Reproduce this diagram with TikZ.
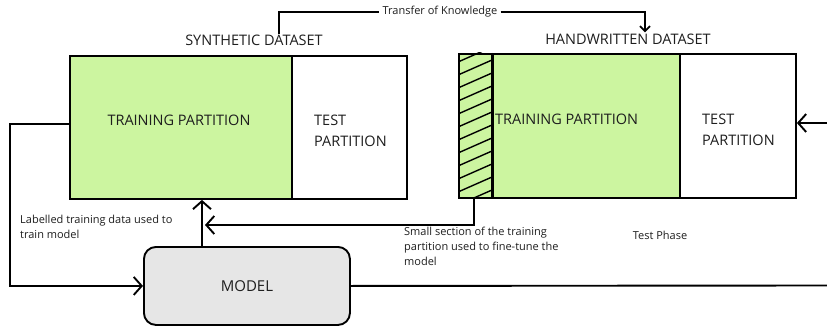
\documentclass[tikz,border=0pt]{standalone}
\usepackage{fontspec}
\setmainfont{Open Sans}
\usetikzlibrary{arrows.meta}
\definecolor{lgreen}{RGB}{204,245,160}
\definecolor{lgray}{RGB}{230,230,230}
\definecolor{txt}{RGB}{30,30,30}
\begin{document}
\begin{tikzpicture}[x=1pt,y=-1pt,
  box/.style={draw, line width=1.9pt, inner sep=0pt, anchor=north west, minimum height=143pt},
  conn/.style={line width=1.9pt},
  tip/.style={-{Straight Barb[length=8pt,width=18pt,line width=1.9pt]}},
  smalltip/.style={-{Straight Barb[length=5pt,width=10pt,line width=1.9pt]}},
  captxt/.style={font=\fontsize{14.5}{21}\selectfont, text=txt, inner sep=0pt},
  lbl/.style={font=\fontsize{11}{15}\selectfont, text=txt, align=left, anchor=north west, inner sep=0pt}]
\useasboundingbox[fill=white] (0,0) rectangle (827,326);
% synthetic dataset
\node[box, fill=lgreen, minimum width=222pt] (strain) at (69,55) {};
\node[box, minimum width=115pt] (stest) at (291,55) {};
\node[captxt] (strainlbl) at (179,120) {TRAINING PARTITION};
\node[captxt, align=left, anchor=west] (stestlbl) at (314,131) {TEST\\PARTITION};
\node[captxt] (synlbl) at (254,40) {SYNTHETIC DATASET};
% handwritten dataset
\node[box, fill=lgreen, minimum width=34pt, minimum height=144pt] (hhatch) at (458,53) {};
\begin{scope}
\clip (458,53) rectangle (492,197);
\foreach \k in {0,...,13} \draw[line width=1.4pt] (458,62+13*\k) -- (492,47+13*\k);
\end{scope}
\node[box, minimum width=34pt, minimum height=144pt] at (458,53) {};
\node[box, fill=lgreen, minimum width=187pt, minimum height=144pt] (htrain) at (492,53) {};
\node[box, minimum width=116pt, minimum height=144pt] (htest) at (679,53) {};
\draw[line width=2.8pt] (htrain.north west) -- (htrain.south west);
\node[captxt, anchor=west] (htrainlbl) at (495,119) {TRAINING PARTITION};
\node[captxt, align=left, anchor=west] (htestlbl) at (702,130) {TEST\\PARTITION};
\node[captxt] (hwlbl) at (628,39) {HANDWRITTEN DATASET};
% model
\node[draw, fill=lgray, rounded corners=12pt, line width=1.9pt, minimum width=206pt, minimum height=78pt, anchor=north west, inner sep=0pt, font=\fontsize{15}{17}\selectfont, text=txt] (model) at (143,246) {MODEL};
% transfer of knowledge
\node[font=\fontsize{11}{13}\selectfont, text=txt, inner sep=3pt] (tk) at (440,12) {Transfer of Knowledge};
\draw[conn] ([xshift=25pt]synlbl.north) |- (tk.west);
\draw[conn, smalltip] (tk.east) -| ([xshift=17pt,yshift=1pt]hwlbl.north);
% connectors
\draw[conn, tip] ([yshift=3.5pt]strain.west) -- ++(-59,0) |- (model.west);
\draw[conn, tip] ([xshift=-45pt]model.north) -- ([xshift=-45pt]model.north |- strain.south);
\coordinate (fineend) at (205,225);
\draw[conn, tip] ([xshift=-2pt]hhatch.south) |- (fineend);
\coordinate (rightout) at (827,285.5);
\draw[conn] (model.east) -- (rightout);
\coordinate (rightin) at (827,123);
\draw[conn, tip] (rightin) -- (rightin -| htest.east);
% labels
\node[lbl] (lab1) at (20,215) {Labelled training data used to\\train model};
\node[lbl] (lab2) at (404,227) {Small section of the training\\partition used to fine-tune the\\model};
\node[font=\fontsize{11}{13}\selectfont, text=txt] (testphase) at (660,235) {Test Phase};
\end{tikzpicture}
\end{document}
